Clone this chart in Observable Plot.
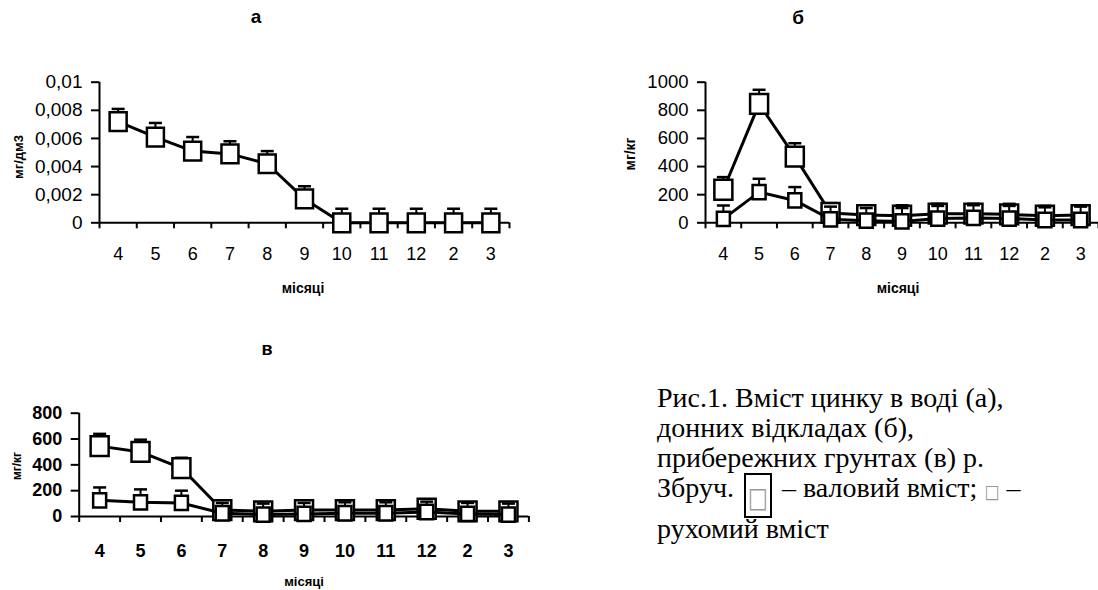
<!DOCTYPE html>
<html><head><meta charset="utf-8">
<script src="https://cdn.jsdelivr.net/npm/d3@7"></script>
<script src="https://cdn.jsdelivr.net/npm/@observablehq/plot@0.6"></script>
<style>
body{margin:0;background:#fff;}
#wrap{position:relative;width:1098px;height:590px;overflow:hidden;font-family:"Liberation Sans",Arial,sans-serif;color:#000;}
.abs{position:absolute;white-space:nowrap;line-height:1;}
.t{font-weight:bold;transform:translate(-50%,-50%);}
.rot{font-weight:bold;transform:translate(-50%,-50%) rotate(-90deg);}
.panel{position:absolute;}
#cap{position:absolute;font-family:"Liberation Serif","Times New Roman",serif;font-size:28px;line-height:30px;left:657px;top:383px;white-space:nowrap;}
#cap div{height:30px;}
#cap div.last{margin-top:11px;}
.box{display:inline-block;box-sizing:border-box;border:2px solid #000;width:28px;height:45px;vertical-align:middle;text-align:center;line-height:41px;margin:-12px 3px;position:relative;top:5px;}
.sq1{display:inline-block;font-family:"DejaVu Sans",sans-serif;color:#999;font-size:21px;line-height:41px;transform:scale(1,1.35);}
.sq2{display:inline-block;font-family:"DejaVu Sans",sans-serif;color:#999;font-size:16px;transform:scale(1,1.2);}
</style></head><body><div id="wrap"></div>
<script>
// month categories (x axis)
const months = ["4","5","6","7","8","9","10","11","12","2","3"];

// panel а: water, mg/dm3
const waterVals = [0.0072, 0.0061, 0.0051, 0.0049, 0.0042, 0.0017, 0, 0, 0, 0, 0];
const waterErr  = [0.0009, 0.001, 0.001, 0.0009, 0.0009, 0.0009, 0.001, 0.001, 0.001, 0.001, 0.001];
const yTicksA  = [0, 0.002, 0.004, 0.006, 0.008, 0.01];
const yLabelsA = ["0", "0,002", "0,004", "0,006", "0,008", "0,01"];

// panel б: bottom sediments, mg/kg
const sedTotal    = [235, 846, 471, 70, 55, 50, 65, 65, 60, 50, 55];
const sedTotalErr = [90, 100, 95, 70, 70, 75, 70, 70, 75, 70, 70];
const sedMobile    = [28, 218, 159, 25, 15, 10, 30, 35, 30, 20, 20];
const sedMobileErr = [95, 95, 95, 90, 90, 95, 90, 90, 90, 90, 95];
const yTicksB  = [0, 200, 400, 600, 800, 1000];
const yLabelsB = ["0", "200", "400", "600", "800", "1000"];

// panel в: riverside soils, mg/kg
const soilTotal    = [545, 500, 375, 50, 40, 50, 50, 50, 60, 40, 40];
const soilTotalErr = [95, 95, 80, 60, 65, 60, 65, 65, 60, 65, 60];
const soilMobile    = [125, 110, 105, 25, 15, 20, 25, 25, 35, 20, 15];
const soilMobileErr = [100, 100, 95, 80, 85, 85, 85, 85, 80, 85, 85];
const yTicksC  = [0, 200, 400, 600, 800];
const yLabelsC = ["0", "200", "400", "600", "800"];

const FONT = "Liberation Sans, Arial, sans-serif";

const capSym = {draw(ctx, size){ const w = Math.sqrt(size/Math.PI); ctx.moveTo(-w,0); ctx.lineTo(w,0); }};
function boxSym(ratio){ return {draw(ctx, size){ const w = Math.sqrt(size); const h = w*ratio; ctx.rect(-w/2,-h/2,w,h); ctx.closePath(); }}; }

function rows(vals, errs){ return vals.map((v,i)=>({i: i+0.5, v, e: errs[i]})); }

function seriesMarks(data, side){
  return [
    Plot.line(data,{x:"i",y:"v",stroke:"black",strokeWidth:3}),
    Plot.ruleX(data,{x:"i",y1:"v",y2:d=>d.v+d.e,stroke:"black",strokeWidth:2}),
    Plot.dot(data,{x:"i",y:d=>d.v+d.e,symbol:capSym,r:6.5,stroke:"black",strokeWidth:2.5,fill:"none"}),
    Plot.dot(data,{x:"i",y:"v",symbol:boxSym(1.1),r:side/Math.sqrt(Math.PI),fill:"white",stroke:"black",strokeWidth:2.5})
  ];
}

function panel({width,height,ml,mr,mt,mb,yDomain,yTicks,yLabels,fsY,fsX,bold,pad,marks}){
  const fw = bold ? "bold" : "normal";
  return Plot.plot({
    width,height,marginLeft:ml,marginRight:mr,marginTop:mt,marginBottom:mb,
    style:{fontFamily:FONT,overflow:"visible",background:"transparent",color:"black"},
    x:{type:"linear",domain:[0,11]},
    y:{domain:yDomain},
    marks:[
      Plot.axisY({ticks:yTicks,tickFormat:d=>yLabels[yTicks.indexOf(d)],tickSize:8,tickPadding:9,fontSize:fsY,fontWeight:fw,strokeWidth:2,label:null}),
      Plot.axisX({ticks:d3.range(12),tickFormat:()=>"",tickSize:6,strokeWidth:2,label:null}),
      Plot.axisX({ticks:months.map((m,i)=>i+0.5),tickFormat:d=>months[Math.floor(d)],tickSize:0,tickPadding:pad,fontSize:fsX,fontWeight:fw,label:null}),
      Plot.ruleX([0],{strokeWidth:2}),
      Plot.ruleY([0],{strokeWidth:2}),
      ...marks
    ]
  });
}

const wrap = document.getElementById("wrap");
function place(node, left, top){ node.classList.add("panel"); node.style.left = left+"px"; node.style.top = top+"px"; wrap.appendChild(node); }
function label(text, x, y, cls, size){ const d = document.createElement("div"); d.className = "abs "+cls; d.textContent = text; d.style.left = x+"px"; d.style.top = y+"px"; d.style.fontSize = size+"px"; wrap.appendChild(d); }

// а
place(panel({width:520,height:300,ml:99,mr:11,mt:81.7,mb:77.7,yDomain:[0,0.01],yTicks:yTicksA,yLabels:yLabelsA,fsY:19,fsX:18,bold:false,pad:24,
  marks:seriesMarks(rows(waterVals,waterErr),17)}), 0, 0);
// б
place(panel({width:538,height:300,ml:145,mr:0,mt:81.7,mb:77.7,yDomain:[0,1000],yTicks:yTicksB,yLabels:yLabelsB,fsY:18.5,fsX:18,bold:false,pad:24,
  marks:[...seriesMarks(rows(sedTotal,sedTotalErr),18), ...seriesMarks(rows(sedMobile,sedMobileErr),13)]}), 560, 0);
// в
place(panel({width:540,height:280,ml:78.7,mr:11.6,mt:102.7,mb:74,yDomain:[0,800],yTicks:yTicksC,yLabels:yLabelsC,fsY:18,fsX:18,bold:true,pad:28,
  marks:[...seriesMarks(rows(soilTotal,soilTotalErr),18), ...seriesMarks(rows(soilMobile,soilMobileErr),13)]}), 0, 310);

label("а", 256, 16, "t", 19);
label("б", 798, 17, "t", 19);
label("в", 267, 349, "t", 18);
label("місяці", 303, 288, "t", 14);
label("місяці", 898, 288, "t", 14);
label("місяці", 304, 581, "t", 13);
label("мг/дм3", 18, 157, "rot", 13);
label("мг/кг", 630, 154, "rot", 14);
label("мг/кг", 17, 466, "rot", 12);

const cap = document.createElement("div");
cap.id = "cap";
cap.innerHTML = "<div>Рис.1. Вміст цинку в воді (а),</div><div>донних відкладах (б),</div><div>прибережних грунтах (в) р.</div><div>Збруч. <span class='box'><span class='sq1'>□</span></span> – валовий вміст; <span class='sq2'>□</span> –</div><div class='last'>рухомий вміст</div>";
wrap.appendChild(cap);
</script>
</body></html>
